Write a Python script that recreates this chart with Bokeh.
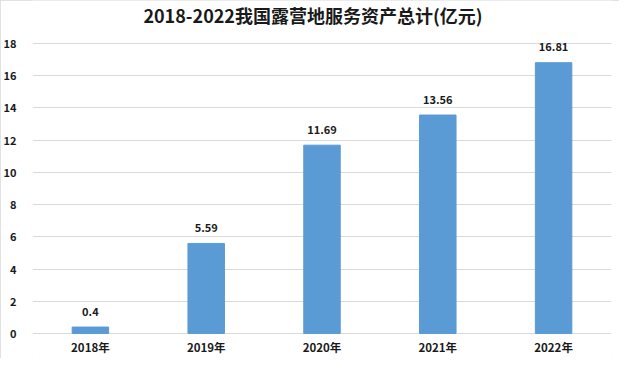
from bokeh.plotting import figure
from bokeh.models import ColumnDataSource, FixedTicker, LabelSet
from bokeh.core.properties import value
from bokeh.embed import file_html
from bokeh.resources import INLINE

years = ["2018年", "2019年", "2020年", "2021年", "2022年"]
values = [0.4, 5.59, 11.69, 13.56, 16.81]
labels = ["0.4", "5.59", "11.69", "13.56", "16.81"]
yticks = [0, 2, 4, 6, 8, 10, 12, 14, 16, 18]
title_text = "2018-2022我国露营地服务资产总计(亿元)"

FONT = "Noto Sans CJK SC"
TXT = "#1a1a1a"
src = ColumnDataSource(dict(x=years, top=values, lab=labels, zero=[0] * len(years)))
tsrc = ColumnDataSource(dict(x=[years[2]], y=[19.77], t=[title_text]))

# frame spans whole figure height; title and category labels drawn inside it
p = figure(x_range=years, y_range=(-1.552, 20.669), width=619, height=358,
           output_backend="svg", toolbar_location=None,
           min_border_left=24, min_border_right=8, min_border_top=0,
           min_border_bottom=0)

p.vbar(x="x", top="top", width=0.315, source=src, color="#5B9BD5")
p.add_layout(LabelSet(x="x", y="top", text="lab", source=src, y_offset=16,
                      text_align="center", text_baseline="middle",
                      text_font=value(FONT), text_font_size="11px",
                      text_font_style="bold", text_color=TXT))
p.add_layout(LabelSet(x="x", y="zero", text="x", source=src, y_offset=-14,
                      text_align="center", text_baseline="middle",
                      text_font=value(FONT), text_font_size="11.5px",
                      text_font_style="bold", text_color=TXT))
p.add_layout(LabelSet(x="x", y="y", text="t", source=tsrc, x_offset=-9,
                      text_align="center", text_baseline="middle",
                      text_font=value(FONT), text_font_size="18px",
                      text_font_style="bold", text_color=TXT))

p.yaxis.ticker = FixedTicker(ticks=yticks)
p.yaxis.axis_line_color = None
p.yaxis.major_tick_line_color = None
p.yaxis.minor_tick_line_color = None
p.yaxis.major_label_text_font = FONT
p.yaxis.major_label_text_font_size = "11px"
p.yaxis.major_label_text_font_style = "bold"
p.yaxis.major_label_text_color = TXT
p.yaxis.major_label_standoff = 10

p.xaxis.visible = False

p.xgrid.grid_line_color = None
p.ygrid.grid_line_color = "#d9d9d9"
p.outline_line_color = None
p.styles = {"outline": "1px solid #d9d9d9", "outline-offset": "-1px"}

open("out.html", "w").write(file_html(p, INLINE))
